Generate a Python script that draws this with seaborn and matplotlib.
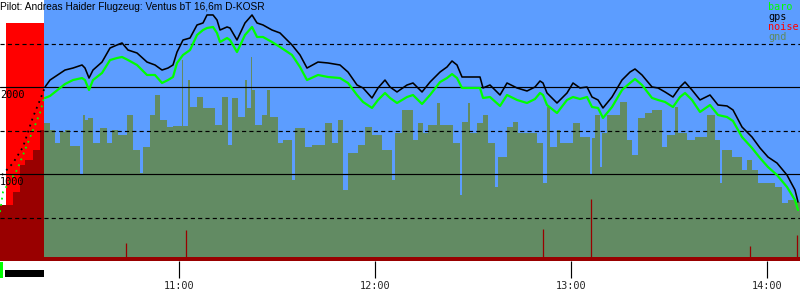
import numpy as np
import pandas as pd
import matplotlib
matplotlib.use("Agg")
import matplotlib.pyplot as plt
import seaborn as sns
from matplotlib.transforms import blended_transform_factory, offset_copy

# ---------------- data (time = minutes after 10:00, altitude in metres) ----------
title = "Pilot: Andreas Haider Flugzeug: Ventus bT 16,6m D-KOSR"
legend_labels = ["baro", "gps", "noise", "gnd"]
hour_ticks = [60, 120, 180, 240]
hour_labels = ["11:00", "12:00", "13:00", "14:00"]
alt_labels = [1000, 2000]
dash_levels = [500, 1500, 2500]
x_range = [5.2, 250.1]
y_range = [0, 3000]
takeoff = 18.67
flight_end = 250.1
engine_noise_span = [6.9, 18.67]
engine_noise_top = 2736
engine_bar = [6.8, 18.67]
baro_mark = [5.2, 6.1]

gps_pre_t = [5.82, 9.18, 12.24, 15.31, 17.45, 18.98]
gps_pre_alt = [988, 1126, 1310, 1655, 1851, 2000]
baro_pre_t = [5.20, 6.12, 10.41, 15.31, 17.45, 18.67]
baro_pre_alt = [563, 793, 1046, 1506, 1701, 1874]

flight_t = [
    18.98, 20.51, 25.10, 27.55, 30.31, 31.22, 32.45, 33.67, 36.43, 38.88,
    41.02, 42.55, 44.39, 47.14, 50.20, 52.65, 54.80, 56.63, 58.16, 59.39,
    61.22, 63.37, 65.51, 67.35, 68.57, 70.41, 71.63, 72.55, 74.70,
    75.61, 77.75, 80.20, 82.35, 83.88, 85.71, 88.47, 90.92, 94.59, 97.04,
    99.18, 102.55, 105.61, 109.28, 111.73, 114.49, 116.33, 119.08, 120.92, 123.06,
    124.59, 126.73, 129.80, 131.63,
    134.39, 136.84, 139.90, 142.04, 143.57, 145.10, 146.63, 149.69, 152.14, 153.06,
    155.20, 158.27, 160.41, 163.47, 166.53, 168.98, 170.51, 171.43, 172.65, 175.71,
    178.78, 180.61, 182.75, 184.90, 186.43, 188.27,
    189.79, 192.55, 195.61, 198.06, 199.59, 201.73, 204.80, 206.63, 208.78, 211.22,
    213.37, 214.90, 217.04, 219.49, 222.55, 225.00, 227.76, 229.59, 232.35, 235.41,
    237.86, 240.31, 243.06, 246.12, 248.57, 249.49,
]
gps_alt = [
    2000, 2080, 2195, 2218, 2253, 2218, 2103, 2195, 2287, 2448,
    2483, 2506, 2425, 2391, 2287, 2253, 2195, 2218, 2253, 2402,
    2540, 2563, 2713, 2736, 2828, 2828, 2770, 2655, 2690,
    2678, 2540, 2736, 2828, 2736, 2713, 2655, 2621, 2483, 2368,
    2218, 2287, 2276, 2253, 2172, 2023, 1989, 1874, 1989, 2080,
    2000, 1943, 2023, 2046,
    1943, 2057, 2172, 2230, 2299, 2253, 2115, 2115, 2115, 1989,
    2023, 1908, 2046, 1989, 1954, 2000, 2069, 2046, 1931, 1816,
    1931, 2046, 1989, 2000, 1885, 1851,
    1759, 1885, 2080, 2172, 2207, 2138, 2000, 1989, 1943, 1885,
    2000, 2057, 1965, 1851, 1908, 1793, 1782, 1736, 1540, 1425,
    1299, 1195, 1126, 988, 816, 678,
]
baro_alt = [
    1874, 1897, 2034, 2080, 2103, 2080, 1966, 2080, 2161, 2310,
    2333, 2345, 2310, 2253, 2138, 2138, 2046, 2080, 2115, 2276,
    2368, 2425, 2598, 2655, 2678, 2690, 2621, 2517, 2563,
    2540, 2402, 2598, 2690, 2575, 2575, 2517, 2460, 2368, 2230,
    2080, 2138, 2115, 2103, 2046, 1908, 1828, 1759, 1851, 1931,
    1874, 1816, 1885, 1908,
    1805, 1908, 2057, 2103, 2149, 2103, 1989, 1989, 1989, 1874,
    1885, 1782, 1908, 1851, 1816, 1862, 1931, 1908, 1793, 1701,
    1851, 1885, 1862, 1885, 1770, 1759,
    1644, 1770, 1965, 2046, 2092, 2023, 1874, 1851, 1828, 1770,
    1885, 1931, 1851, 1713, 1793, 1678, 1655, 1609, 1425, 1299,
    1184, 1080, 988, 851, 701, 586,
]

gnd_t = [
    18.67, 20.51, 22.04, 23.57, 25.10, 26.63, 29.69, 30.61, 31.22, 32.14,
    33.67, 35.82, 37.96, 39.49, 41.33, 44.08, 45.92, 48.06, 48.98, 51.12,
    52.65, 54.18, 56.33, 58.16, 60.92, 61.22, 62.76, 63.37, 65.51, 67.35,
    71.02, 73.16, 75.00, 76.22, 78.06, 80.20, 80.82, 82.04, 82.35, 83.27,
    85.41, 86.94, 87.86, 90.31, 91.84, 94.59, 95.51, 98.57, 100.71, 104.69,
    106.84, 108.67, 110.20, 111.73, 114.80, 116.94, 119.08, 122.14, 125.20, 126.12,
    128.27, 131.63, 133.16, 134.69, 136.22, 139.00, 139.90, 143.88, 146.02, 146.63,
    148.47, 149.08, 151.22, 153.06, 154.59, 156.73, 157.65, 160.41, 162.24, 163.78,
    169.59, 171.43, 172.65, 173.57, 175.71, 176.63, 180.61, 182.75, 185.82, 186.43,
    187.35, 188.88, 189.49, 191.02, 195.00, 197.14, 198.67, 200.51, 202.65, 204.80,
    207.86, 209.39, 211.84, 212.76, 215.51, 217.96, 221.63, 224.08, 225.61, 226.22,
    229.29, 232.35, 233.88, 235.41, 237.24, 242.45, 244.59, 246.43, 248.57,
]
gnd_alt = [
    1586, 1506, 1356, 1483, 1506, 1322, 988, 1678, 1621, 1644,
    1356, 1529, 1356, 1506, 1448, 1678, 1276, 1011, 1310, 1678,
    1908, 1621, 1540, 1552, 2310, 1552, 2080, 1770, 1885, 1759,
    1563, 1885, 1333, 1874, 1655, 2080, 1759, 2345, 1966, 1563,
    1678, 1966, 1655, 1356, 1391, 931, 1529, 1310, 1333, 1586,
    1356, 1621, 816, 1241, 1333, 1540, 1448, 1276, 931, 1471,
    1736, 1391, 1586, 1471, 1563, 1816, 1563, 1356, 759, 1598,
    1816, 1471, 1586, 1678, 1356, 851, 1195, 1540, 1598, 1471,
    1356, 897, 1770, 1310, 1506, 1356, 1586, 1425, 988, 1414,
    1678, 1080, 1471, 1678, 1828, 1391, 1218, 1644, 1701, 1736,
    1310, 1448, 1770, 1471, 1391, 1425, 1678, 1391, 897, 1276,
    1195, 1046, 1161, 1046, 897, 851, 667, 701, 678,
]

pre_gnd_t = [5.20, 9.18, 11.33, 12.86, 15.31, 17.45]
pre_gnd_alt = [644, 793, 1103, 1161, 1276, 1506]

noise_base = 50
noise_spike_t = [43.78, 62.14, 171.43, 186.12, 234.80, 249.18]
noise_spike_val = [207, 356, 368, 713, 172, 299]

# ---------------- style ----------------
BLUE = "#5c9dff"
GND = "#628b63"
RED = "#ff0000"
DRED = "#990000"
GREEN = "#00ff00"
MONO = "DejaVu Sans Mono"

sns.set_style("white")
plt.rcParams["font.family"] = ["Liberation Sans", "DejaVu Sans"]

fig = plt.figure(figsize=(8, 3), dpi=100)
ax = fig.add_axes([0, 0.13, 1, 0.87])
ax.set_facecolor("white")
ax.set_xlim(*x_range)
ax.set_ylim(*y_range)

# sky after takeoff
ax.axvspan(takeoff, flight_end, color=BLUE, lw=0, zorder=0)
# engine noise block
ax.fill_between(engine_noise_span, 0, engine_noise_top, color=RED, lw=0, zorder=1)
# ground
ax.fill_between(np.append(gnd_t, flight_end), np.append(gnd_alt, gnd_alt[-1]),
                0, step="post", color=GND, lw=0, zorder=2)
ax.fill_between(np.append(pre_gnd_t, takeoff), np.append(pre_gnd_alt, pre_gnd_alt[-1]),
                0, step="post", color=DRED, lw=0, zorder=2)
# noise baseline and spikes
ax.fill_between(x_range, 0, noise_base, color=DRED, lw=0, zorder=3)
ax.vlines(noise_spike_t, 0, noise_spike_val, color=DRED, lw=0.9, zorder=3)

# reference lines
for v in alt_labels:
    ax.axhline(v, color="black", lw=0.85, zorder=4)
for v in dash_levels:
    ax.axhline(v, color="black", lw=0.85, ls=(0, (3.5, 2.7)), zorder=4)

# altitude curves
df = pd.DataFrame({"t": flight_t, "gps": gps_alt, "baro": baro_alt})
pre_g = pd.DataFrame({"t": gps_pre_t, "alt": gps_pre_alt})
pre_b = pd.DataFrame({"t": baro_pre_t, "alt": baro_pre_alt})
sns.lineplot(data=pre_b, x="t", y="alt", ax=ax, color=GREEN, lw=1.3,
             linestyle=(0, (1, 2.5)), estimator=None, zorder=5)
sns.lineplot(data=pre_g, x="t", y="alt", ax=ax, color="black", lw=1.3,
             linestyle=(0, (1, 2.5)), estimator=None, zorder=6)
sns.lineplot(data=df, x="t", y="baro", ax=ax, color=GREEN, lw=1.6,
             estimator=None, zorder=5)
sns.lineplot(data=df, x="t", y="gps", ax=ax, color="black", lw=1.15,
             estimator=None, zorder=6)

# axes cosmetics
for s in ax.spines.values():
    s.set_visible(False)
ax.set_xlabel("")
ax.set_ylabel("")
ax.set_yticks([])
ax.set_xticks(np.arange(30, 250, 30))
ax.set_xticks(np.arange(10, 251, 5), minor=True)
ax.tick_params(axis="x", which="major", length=8, width=0.85, color="black",
               labelbottom=False, direction="out")
ax.tick_params(axis="x", which="minor", length=3.6, width=0.85, color="black",
               direction="out")

sec = ax.secondary_xaxis("bottom")
sec.set_xticks(hour_ticks)
sec.set_xticklabels(hour_labels)
sec.spines["bottom"].set_visible(False)
sec.tick_params(axis="x", length=12.2, width=0.85, color="black", pad=2)
for lab in sec.get_xticklabels():
    lab.set_family(MONO)
    lab.set_fontsize(7.4)

# y labels inside plot
tr = blended_transform_factory(ax.transAxes, ax.transData)
tr_off = offset_copy(tr, fig=fig, x=0, y=-3, units="dots")
for v in alt_labels:
    ax.text(0.0, v, str(v), transform=tr_off, family=MONO, fontsize=7.4,
            ha="left", va="top", color="black", zorder=7)

# bars under the axis
trb = blended_transform_factory(ax.transData, fig.transFigure)
ax.fill_between(engine_bar, 1 - 277 / 300, 1 - 270 / 300, color="black",
                transform=trb, clip_on=False, lw=0)
ax.fill_between(baro_mark, 1 - 278 / 300, 1 - 262 / 300, color=GREEN,
                transform=trb, clip_on=False, lw=0)

# title and legend
fig.text(0.0, 1 - 7.5 / 300, title, fontsize=7.3, ha="left", va="center",
         color="black", family=["Liberation Sans", "DejaVu Sans"])
leg_colors = [GREEN, "black", RED, "#5f8a5f"]
for i, (lab, col) in enumerate(zip(legend_labels, leg_colors)):
    fig.text(768 / 800, 1 - (7.5 + 10 * i) / 300, lab, family=MONO, fontsize=7.3,
             color=col, ha="left", va="center")

fig.savefig("out.png", dpi=100)
